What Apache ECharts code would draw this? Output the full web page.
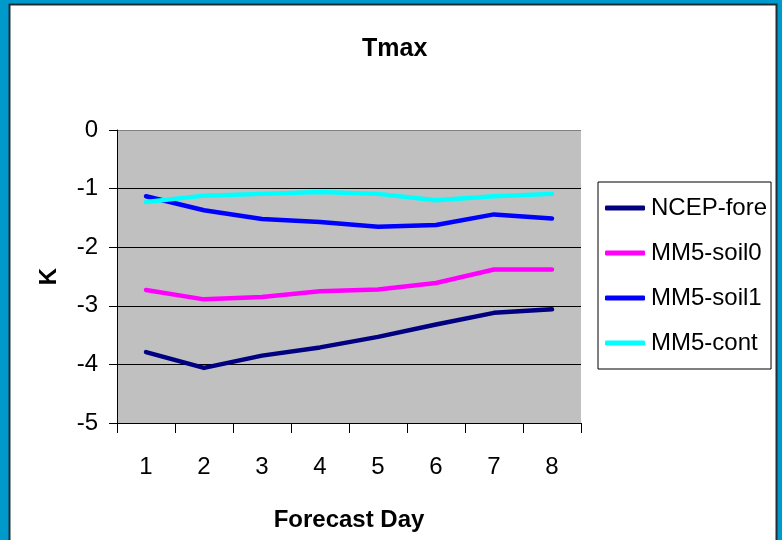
<!DOCTYPE html>
<html>
<head>
<meta charset="utf-8">
<script src="https://cdn.jsdelivr.net/npm/echarts@6/dist/echarts.min.js"></script>
<style>
  html, body { margin: 0; padding: 0; background: #0099CC; }
  #chart { width: 782px; height: 540px; }
</style>
</head>
<body>
<div id="chart"></div>
<script>
// Forecast days along the x axis
const days = ['1', '2', '3', '4', '5', '6', '7', '8'];

// Tmax bias (K) for each run
const ncepFore = [-3.79, -4.06, -3.85, -3.71, -3.53, -3.32, -3.12, -3.06];
const mm5Soil0 = [-2.73, -2.89, -2.85, -2.75, -2.72, -2.61, -2.38, -2.38];
const mm5Soil1 = [-1.13, -1.37, -1.52, -1.57, -1.65, -1.62, -1.44, -1.51];
const mm5Cont  = [-1.23, -1.12, -1.09, -1.06, -1.09, -1.20, -1.13, -1.09];

const seriesNames = ['NCEP-fore', 'MM5-soil0', 'MM5-soil1', 'MM5-cont'];
const seriesData = [ncepFore, mm5Soil0, mm5Soil1, mm5Cont];
const seriesColors = ['#000080', '#FF00FF', '#0000FF', '#00FFFF'];

const FONT = '"Liberation Sans", Arial, sans-serif';

const chart = echarts.init(document.getElementById('chart'));

chart.setOption({
  backgroundColor: '#0099CC',
  animation: false,
  graphic: [
    {
      type: 'rect',
      z: -10,
      silent: true,
      shape: { x: 9.5, y: 4.5, width: 767, height: 600 },
      style: { fill: '#FFFFFF', stroke: '#1E2E34', lineWidth: 2 }
    }
  ],
  title: {
    text: 'Tmax',
    left: 357,
    top: 32,
    textStyle: { fontFamily: FONT, fontWeight: 'bold', fontSize: 25, color: '#000' }
  },
  legend: {
    orient: 'vertical',
    left: 598,
    top: 182,
    padding: [14, 4, 14, 7],
    itemGap: 21,
    itemWidth: 40,
    itemHeight: 5,
    icon: 'roundRect',
    borderColor: '#000',
    borderWidth: 1,
    backgroundColor: '#FFFFFF',
    data: seriesNames,
    textStyle: { fontFamily: FONT, fontSize: 24, color: '#000', padding: [0, 0, 0, 1] }
  },
  grid: {
    left: 117,
    top: 130,
    width: 464,
    height: 293,
    show: true,
    backgroundColor: '#C0C0C0',
    borderWidth: 0
  },
  xAxis: {
    type: 'category',
    data: days,
    boundaryGap: true,
    name: 'Forecast Day',
    nameLocation: 'middle',
    nameGap: 85,
    nameTextStyle: { fontFamily: FONT, fontWeight: 'bold', fontSize: 24, color: '#000' },
    axisLine: { show: true, onZero: false, lineStyle: { color: '#000', width: 1 } },
    axisTick: { show: true, length: 10, alignWithLabel: false, lineStyle: { color: '#000' } },
    axisLabel: { fontFamily: FONT, fontSize: 24, color: '#000', margin: 32 },
    splitLine: { show: false }
  },
  yAxis: {
    type: 'value',
    min: -5,
    max: 0,
    interval: 1,
    name: 'K',
    nameLocation: 'middle',
    nameGap: 56,
    nameRotate: 90,
    nameTextStyle: { fontFamily: FONT, fontWeight: 'bold', fontSize: 24, color: '#000' },
    axisLine: { show: true, lineStyle: { color: '#000', width: 1 } },
    axisTick: { show: true, length: 8, inside: false, lineStyle: { color: '#000' } },
    axisLabel: { fontFamily: FONT, fontSize: 24, color: '#000', margin: 19 },
    splitLine: {
      show: true,
      lineStyle: { color: ['#000', '#000', '#000', '#000', '#000', '#808080'], width: 1 }
    }
  },
  series: seriesNames.map((name, i) => ({
    name: name,
    type: 'line',
    data: seriesData[i],
    symbol: 'none',
    smooth: false,
    color: seriesColors[i],
    lineStyle: { color: seriesColors[i], width: 4.5, cap: 'round', join: 'round' }
  }))
});
</script>
</body>
</html>
